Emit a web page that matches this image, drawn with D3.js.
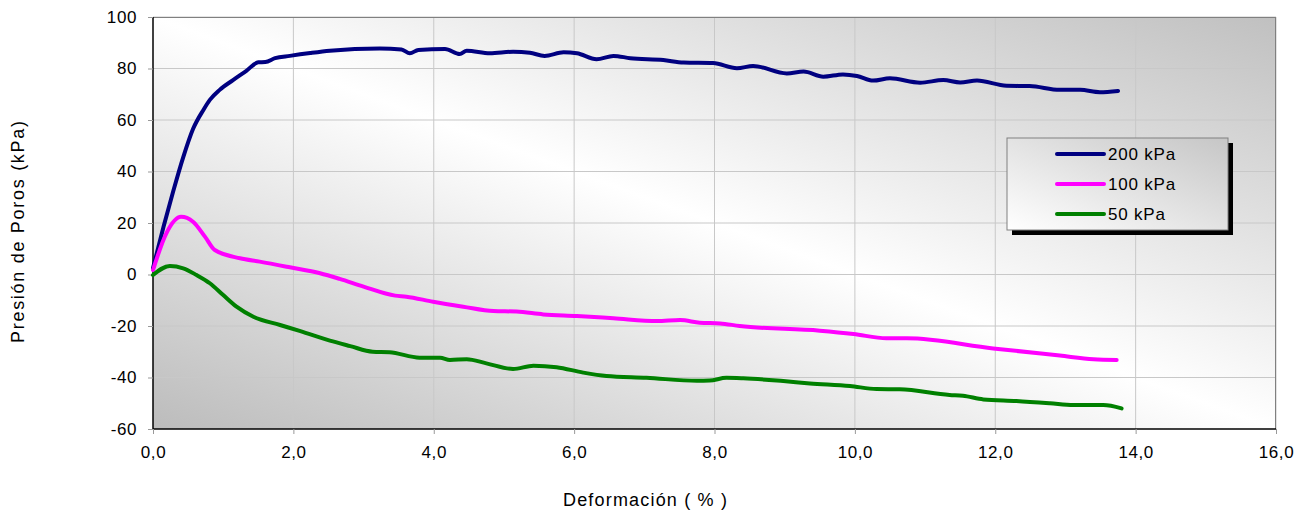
<!DOCTYPE html>
<html>
<head>
<meta charset="utf-8">
<script src="https://cdn.jsdelivr.net/npm/d3@7"></script>
<style>
  body { margin: 0; background: #fff; }
  text { font-family: "Liberation Sans", Arial, sans-serif; }
</style>
</head>
<body>
<div id="chart"></div>
<script>
// deformation (%) and pore pressure (kPa)
var def200 = [0, 0.15, 0.29, 0.43, 0.57, 0.72, 0.81, 0.95, 1.14, 1.33, 1.5, 1.6, 1.74, 1.95, 2.24, 2.52, 3.23, 3.54, 3.66, 3.78, 4.16, 4.37, 4.47, 4.8, 5.13, 5.37, 5.58, 5.85, 6.04, 6.32, 6.56, 6.8, 7.27, 7.56, 7.98, 8.32, 8.55, 9.03, 9.27, 9.55, 9.83, 10.03, 10.26, 10.5, 10.93, 11.26, 11.5, 11.74, 12.16, 12.49, 12.92, 13.21, 13.49, 13.75]
var p200 = [2.5, 18.5, 32.5, 45.5, 56.5, 64, 67.8, 71.7, 75.5, 79.1, 82.4, 82.5, 84, 84.9, 86, 86.9, 87.8, 87.4, 85.9, 87.2, 87.6, 85.6, 86.9, 85.9, 86.5, 86.1, 84.9, 86.3, 85.9, 83.6, 84.9, 84, 83.3, 82.3, 82.1, 80.1, 81, 78.1, 78.8, 76.8, 77.7, 77.1, 75.3, 76.2, 74.5, 75.5, 74.6, 75.3, 73.3, 73.2, 71.7, 71.7, 70.8, 71.3]

var def100 = [0, 0.19, 0.4, 0.57, 0.74, 0.88, 1.24, 1.52, 1.95, 2.38, 2.66, 3.0, 3.45, 3.61, 3.99, 4.42, 4.85, 5.18, 5.56, 6.04, 6.56, 7.18, 7.51, 7.79, 8.08, 8.36, 9.5, 9.98, 10.45, 10.74, 11.97, 12.92, 13.4, 13.73]
var p100 = [1.7, 16, 22.4, 20.5, 14.7, 9.5, 6.3, 5.0, 2.8, 0.5, -1.7, -4.7, -8.2, -8.6, -10.6, -12.5, -14.2, -14.4, -15.5, -16.1, -17.0, -18.1, -17.7, -18.7, -19.0, -20.0, -21.8, -23.1, -24.8, -24.8, -28.7, -31.5, -32.9, -33.2]

var def50 = [0, 0.24, 0.43, 0.62, 0.81, 1.0, 1.19, 1.43, 1.81, 2.1, 2.52, 2.81, 3.13, 3.37, 3.8, 4.09, 4.23, 4.47, 4.75, 5.13, 5.42, 5.75, 6.13, 6.46, 7.03, 7.75, 7.93, 8.17, 8.41, 8.98, 9.36, 9.93, 10.31, 10.64, 11.35, 11.54, 11.83, 12.3, 12.78, 13.11, 13.54, 13.8]
var p50 = [-0.2, 3.3, 2.4, -0.2, -3.4, -8, -12.5, -16.4, -19.6, -22, -25.7, -27.8, -30.0, -30.2, -32.3, -32.3, -33.2, -32.9, -34.5, -36.7, -35.4, -36.0, -38.1, -39.4, -40.1, -41.3, -41.2, -40.1, -40.3, -41.4, -42.3, -43.3, -44.5, -44.6, -46.8, -47.1, -48.5, -49.1, -50.0, -50.7, -50.7, -52.0]

var seriesNames = ["200 kPa", "100 kPa", "50 kPa"]
var seriesColors = ["#000080", "#ff00ff", "#008000"]
var xTicks = [0, 2, 4, 6, 8, 10, 12, 14, 16]
var yTicks = [-60, -40, -20, 0, 20, 40, 60, 80, 100]

var width = 1309, height = 512
var margin = { top: 17, right: 33, bottom: 83, left: 153 }
var iw = width - margin.left - margin.right
var ih = height - margin.top - margin.bottom

var svg = d3.select("#chart").append("svg")
    .attr("width", width)
    .attr("height", height)

var defs = svg.append("defs")
var bg = defs.append("linearGradient").attr("id", "bg")
    .attr("x1", 0).attr("y1", 1).attr("x2", 1).attr("y2", 0)
bg.append("stop").attr("offset", 0).attr("stop-color", "#bcbcbc")
bg.append("stop").attr("offset", 0.5).attr("stop-color", "#ffffff")
bg.append("stop").attr("offset", 1).attr("stop-color", "#c0c0c0")

var lg = defs.append("linearGradient").attr("id", "lg")
    .attr("x1", 0).attr("y1", 1).attr("x2", 1).attr("y2", 0)
lg.append("stop").attr("offset", 0).attr("stop-color", "#ffffff")
lg.append("stop").attr("offset", 1).attr("stop-color", "#c6c6c6")

var g = svg.append("g").attr("transform", "translate(" + margin.left + "," + margin.top + ")")

var x = d3.scaleLinear().domain([0, 16]).range([0, iw])
var y = d3.scaleLinear().domain([-60, 100]).range([ih, 0])

g.append("rect").attr("width", iw).attr("height", ih).attr("fill", "url(#bg)")

// grid
g.selectAll(".vg").data(xTicks.slice(1)).enter().append("line")
    .attr("x1", d => x(d)).attr("x2", d => x(d))
    .attr("y1", 0).attr("y2", ih)
    .attr("stroke", "#c8c8c8").attr("stroke-width", 1)
g.selectAll(".hg").data(yTicks.slice(1)).enter().append("line")
    .attr("x1", 0).attr("x2", iw)
    .attr("y1", d => y(d)).attr("y2", d => y(d))
    .attr("stroke", "#c8c8c8").attr("stroke-width", 1)

// plot frame (top/right grey)
g.append("line").attr("x1", 0).attr("x2", iw).attr("y1", 0.5).attr("y2", 0.5).attr("stroke", "#808080")
g.append("line").attr("x1", iw - 0.5).attr("x2", iw - 0.5).attr("y1", 0).attr("y2", ih).attr("stroke", "#808080")

// axes
var xAxis = g.append("g").attr("transform", "translate(0," + ih + ")")
    .call(d3.axisBottom(x).tickValues(xTicks).tickSize(5).tickPadding(12)
        .tickFormat(d => d.toFixed(1).replace(".", ",")))
var yAxis = g.append("g")
    .call(d3.axisLeft(y).tickValues(yTicks).tickSize(5).tickPadding(11)
        .tickFormat(d => String(d)))
;[xAxis, yAxis].forEach(function (a) {
    a.select(".domain").attr("stroke", "#000").attr("stroke-width", 1.5)
    a.selectAll(".tick line").attr("stroke", "#999")
    a.selectAll(".tick text").attr("fill", "#000")
        .style("font-size", "17px").style("letter-spacing", "0.6px")
        .style("font-family", "Liberation Sans, Arial, sans-serif")
})
yAxis.select(".domain").attr("d", "M0," + ih + "V0")
xAxis.select(".domain").attr("d", "M0,0H" + iw)

// curves
var series = [
    { xs: def200, ys: p200 },
    { xs: def100, ys: p100 },
    { xs: def50, ys: p50 }
]
var line = d3.line()
    .x(d => x(d[0]))
    .y(d => y(d[1]))
    .curve(d3.curveMonotoneX)

series.forEach(function (s, i) {
    var pts = s.xs.map((v, j) => [v, s.ys[j]])
    g.append("path")
        .datum(pts)
        .attr("d", line)
        .attr("fill", "none")
        .attr("stroke", seriesColors[i])
        .attr("stroke-width", 4)
        .attr("stroke-linejoin", "round")
        .attr("stroke-linecap", "round")
})

// legend
var lx = 1007, ly = 138, lw = 221, lh = 92
svg.append("rect").attr("x", lx + 5).attr("y", ly + 5).attr("width", lw).attr("height", lh).attr("fill", "#000")
svg.append("rect").attr("x", lx).attr("y", ly).attr("width", lw).attr("height", lh)
    .attr("fill", "url(#lg)").attr("stroke", "#808080").attr("stroke-width", 1)
seriesNames.forEach(function (n, i) {
    var yy = ly + 16 + i * 30
    svg.append("line").attr("x1", 1057).attr("x2", 1104).attr("y1", yy).attr("y2", yy)
        .attr("stroke", seriesColors[i]).attr("stroke-width", 4).attr("stroke-linecap", "round")
    svg.append("text").attr("x", 1108).attr("y", yy + 6).text(n)
        .style("font-size", "17px").style("letter-spacing", "0.8px").attr("fill", "#000")
})

// axis titles
svg.append("text")
    .attr("transform", "translate(24,232) rotate(-90)")
    .attr("text-anchor", "middle")
    .attr("textLength", 222).attr("lengthAdjust", "spacing")
    .style("font-size", "18px")
    .text("Presión de Poros (kPa)")
svg.append("text")
    .attr("x", 645).attr("y", 506)
    .attr("text-anchor", "middle")
    .attr("textLength", 164).attr("lengthAdjust", "spacing")
    .style("font-size", "18px")
    .text("Deformación ( % )")
</script>
</body>
</html>
